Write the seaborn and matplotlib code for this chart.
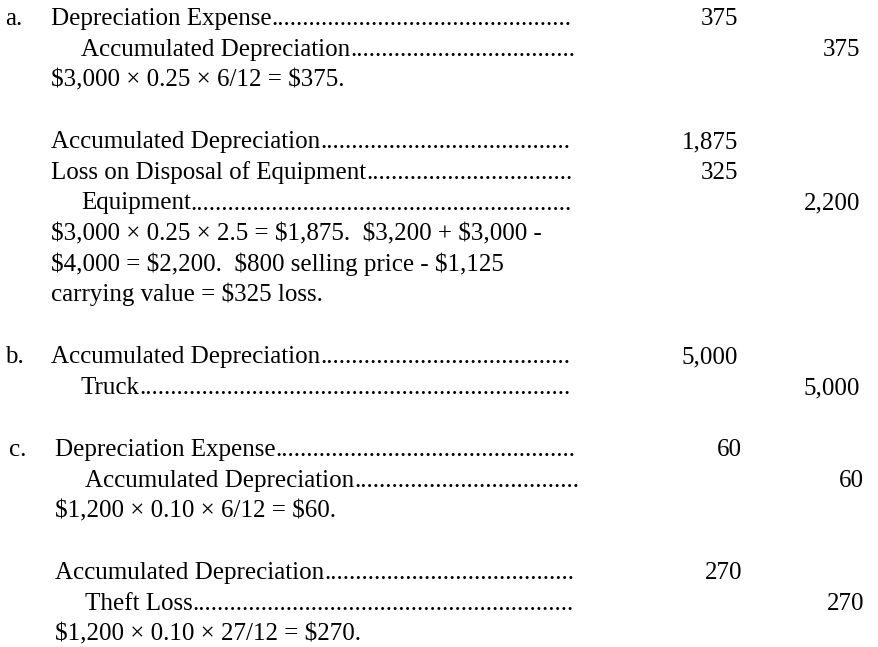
import matplotlib
matplotlib.use("Agg")
import matplotlib.pyplot as plt
import seaborn as sns

#%% Datos de los asientos
line_text = [
    "Depreciation Expense",
    "Accumulated Depreciation",
    "$3,000 × 0.25 × 6/12 = $375.",
    "",
    "Accumulated Depreciation",
    "Loss on Disposal of Equipment",
    "Equipment",
    "$3,000 × 0.25 × 2.5 = $1,875.  $3,200 + $3,000 -",
    "$4,000 = $2,200.  $800 selling price - $1,125",
    "carrying value = $325 loss.",
    "",
    "Accumulated Depreciation",
    "Truck",
    "",
    "Depreciation Expense",
    "Accumulated Depreciation",
    "$1,200 × 0.10 × 6/12 = $60.",
    "",
    "Accumulated Depreciation",
    "Theft Loss",
    "$1,200 × 0.10 × 27/12 = $270.",
]
line_kind = ["dr", "cr", "note", "",
             "dr", "dr", "cr", "note", "note", "note", "",
             "dr", "cr", "",
             "dr", "cr", "note", "",
             "dr", "cr", "note"]
line_amount = ["375", "375", "", "",
               "1,875", "325", "2,200", "", "", "", "",
               "5,000", "5,000", "",
               "60", "60", "", "",
               "270", "270", ""]
line_marker = ["a.", "", "", "",
               "", "", "", "", "", "", "",
               "b.", "", "",
               "c.", "", "", "",
               "", "", ""]

#%% Figura
sns.set_theme(style="white")
plt.rcParams['font.family'] = ['Liberation Serif', 'DejaVu Serif']
plt.rcParams['text.parse_math'] = False

fig = plt.figure(figsize=(8.79, 6.47), dpi=100)
ax = fig.add_axes([0, 0, 1, 1])
ax.set_xlim(0, 879)
ax.set_ylim(647, 0)
ax.axis('off')

fs = 18
color = '#000000'
step, gap, top = 30.6, 31.5, 18
x_mark, x_left, x_indent = 5, 51, 81
dots_end = 573
x_debit, x_credit = 738, 860

renderer = fig.canvas.get_renderer()
probe = ax.text(0, 0, "." * 50, fontsize=fs)
dot_w = probe.get_window_extent(renderer=renderer).width / 50
probe.remove()

row, blanks, shift = 0, 0, 0
for text, kind, amount, marker in zip(line_text, line_kind, line_amount, line_marker):
    if kind == "":
        blanks += 1
        continue
    y = top + step * row + gap * blanks + 7
    row += 1
    if marker == "c.":
        shift = 4  # la parte c. está algo desplazada a la derecha
    if marker:
        ax.text(x_mark + shift, y, marker, fontsize=fs, color=color, va='baseline')
    x = (x_indent if kind == "cr" else x_left) + shift
    t = ax.text(x, y, text, fontsize=fs, color=color, va='baseline')
    if kind == "note":
        continue
    # Puntos guía hasta la columna de importes
    x_end = t.get_window_extent(renderer=renderer).x1
    n = round((dots_end + shift - x_end) / dot_w)
    ax.text(x_end, y, "." * n, fontsize=fs, color=color, va='baseline')
    xa = (x_credit if kind == "cr" else x_debit) + shift
    ax.text(xa, y, amount, fontsize=fs, color=color, va='baseline', ha='right')

fig.savefig("out.png", dpi=100, facecolor='white')
